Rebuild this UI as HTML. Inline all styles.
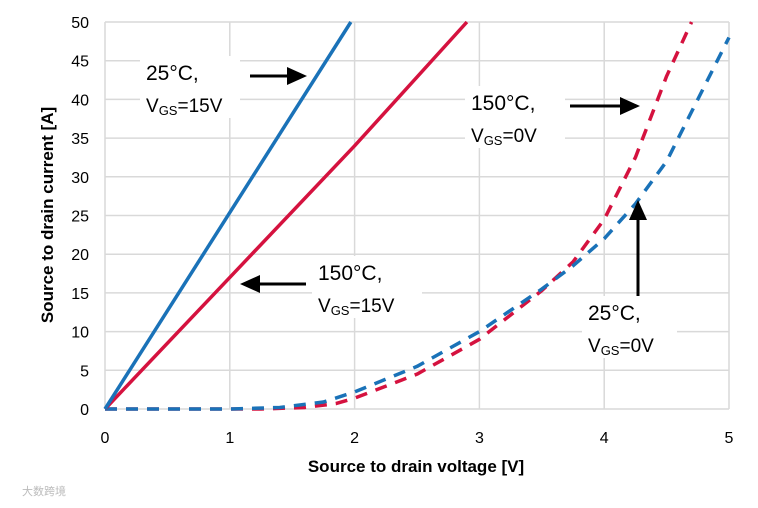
<!DOCTYPE html>
<html><head><meta charset="utf-8"><style>
body{margin:0;background:#fff;}
svg text{font-family:"Liberation Sans","Noto Sans CJK SC",sans-serif;}
</style></head><body>
<svg width="758" height="503" xmlns="http://www.w3.org/2000/svg">
<g id="grid"></g>
<g id="ticks"></g>
<g id="series"></g>
<g id="ann"></g>
<text x="416" y="472" text-anchor="middle" font-size="17" font-weight="bold">Source to drain voltage [V]</text>
<text transform="translate(53,215) rotate(-90)" text-anchor="middle" font-size="17" font-weight="bold">Source to drain current [A]</text>
<text x="22" y="495" font-size="11" fill="#bbb">大数跨境</text>
</svg>
<script>
const xTicks=[0,1,2,3,4,5];
const yTicks=[0,5,10,15,20,25,30,35,40,45,50];
const blueSolidV=[0,1.97];
const blueSolidI=[0,50];
const redSolidV=[0,1,2,2.9];
const redSolidI=[0,17,34,50];
const blueDashV=[0,1,1.4,1.75,2,2.5,3,3.5,3.75,4,4.25,4.5,4.75,5];
const blueDashI=[0,0,0.2,0.9,2.2,5.5,10,15.5,18.5,22,26.5,32,40,48];
const redDashV=[0,1.25,1.6,1.85,2,2.5,3,3.5,3.75,4,4.25,4.5,4.7];
const redDashI=[0,0,0.2,0.7,1.4,4.5,9,15.3,19,24.5,32.5,43,50];
const NS='http://www.w3.org/2000/svg';
const X=v=>105+v*124.8, Y=i=>409-i*7.74;
function mk(t,a,p){const e=document.createElementNS(NS,t);for(const k in a)e.setAttribute(k,a[k]);p.appendChild(e);return e;}
const g=document.getElementById('grid'),tk=document.getElementById('ticks'),s=document.getElementById('series');
xTicks.forEach(v=>{const l=mk('line',{x1:X(v),x2:X(v),y1:Y(0),y2:Y(50),stroke:'#d9d9d9','stroke-width':1.5},g);

const t=mk('text',{x:X(v),y:443,'text-anchor':'middle','font-size':16},tk);t.textContent=v;
});
yTicks.forEach(v=>{const l=mk('line',{x1:X(0),x2:X(5),y1:Y(v),y2:Y(v),stroke:'#d9d9d9','stroke-width':1.5},g);

const t=mk('text',{x:89,y:Y(v)+6,'text-anchor':'end','font-size':16},tk);t.textContent=v;
});
function line(V,I,c,dash,name){const p=mk('polyline',{points:V.map((v,k)=>X(v)+','+Y(I[k])).join(' '),fill:'none',stroke:c,'stroke-width':3.5,'stroke-dasharray':dash||'none','stroke-linejoin':'round'},s);
}
line(redDashV,redDashI,'#d5123f','12 9','red-dashed-150c-vgs0');
line(blueDashV,blueDashI,'#1a72b8','12 9','blue-dashed-25c-vgs0');
line(redSolidV,redSolidI,'#d5123f',null,'red-solid-150c-vgs15');
line(blueSolidV,blueSolidI,'#1a72b8',null,'blue-solid-25c-vgs15');
const a=document.getElementById('ann');
function label(x,y,w,h,l1,l2,name){const r=mk('rect',{x:x,y:y,width:w,height:h,fill:'#fff'},a);

const t=mk('text',{x:x+6,y:y+24,'font-size':21},a);t.textContent=l1;

const t2=mk('text',{x:x+6,y:y+56,'font-size':19},a);t2.innerHTML='V<tspan font-size="13" dy="3">GS</tspan><tspan dy="-3">='+l2+'</tspan>';
}
function arrow(x1,y1,x2,y2,name){const ang=Math.atan2(y2-y1,x2-x1),L=20,W=9;
const bx=x2-L*Math.cos(ang),by=y2-L*Math.sin(ang);
const l=mk('line',{x1:x1,y1:y1,x2:bx,y2:by,stroke:'#000','stroke-width':3},a);

const px=-Math.sin(ang)*W,py=Math.cos(ang)*W;
const p=mk('polygon',{points:`${x2},${y2} ${bx+px},${by+py} ${bx-px},${by-py}`,fill:'#000'},a);
}
label(140,56,100,62,'25°C,','15V','label-25c-vgs15');
arrow(250,76,307,76,'arrow-25c-vgs15');
label(465,86,100,62,'150°C,','0V','label-150c-vgs0');
arrow(570,106,640,106,'arrow-150c-vgs0');
label(312,256,110,62,'150°C,','15V','label-150c-vgs15');
arrow(306,284,240,284,'arrow-150c-vgs15');
label(582,296,95,62,'25°C,','0V','label-25c-vgs0');
arrow(638,296,638,200,'arrow-25c-vgs0');
</script>
</body></html>
